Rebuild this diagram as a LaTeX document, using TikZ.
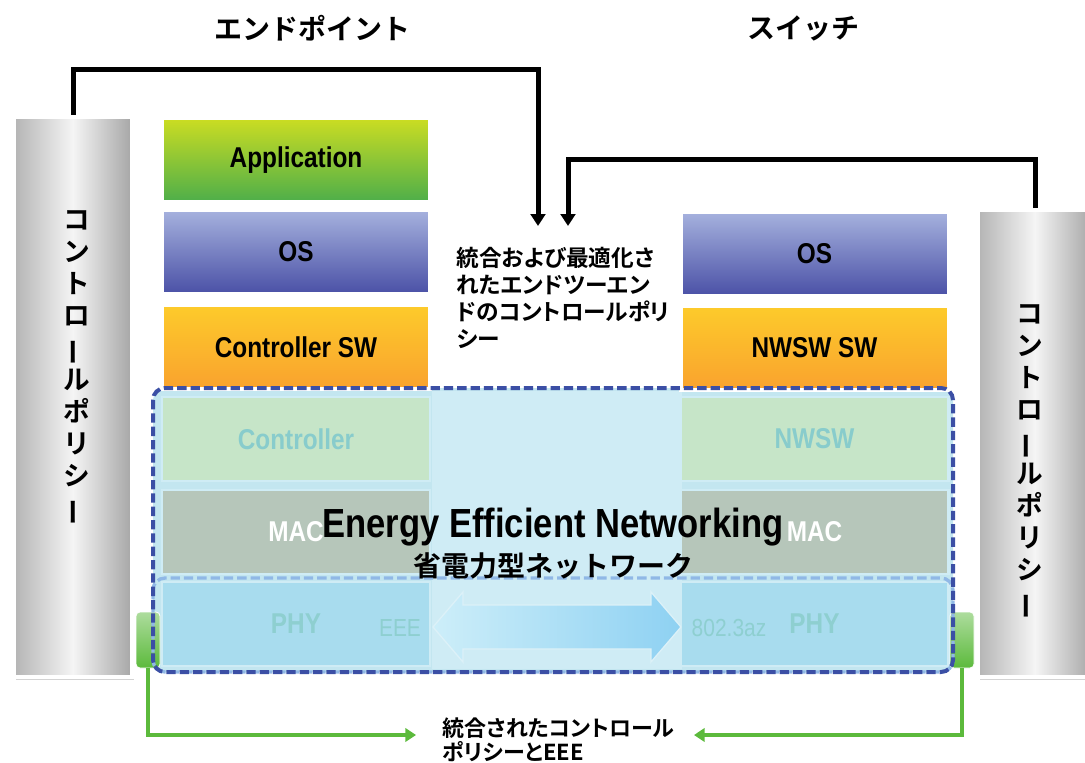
\documentclass[tikz,border=0pt]{standalone}
\usepackage{fontspec}
\usepackage{graphicx}
\usetikzlibrary{arrows.meta,shadows}
\setmainfont{Liberation Sans}
\newfontfamily\nar{Liberation Sans}[FakeStretch=0.85]
\newfontfamily\jp{Noto Sans CJK JP}[BoldFont={Noto Sans CJK JP Bold}]
\newfontfamily\jpp{Noto Sans CJK JP}[BoldFont={Noto Sans CJK JP Bold},RawFeature=+palt]
\newcommand\chouon{\rotatebox[origin=c]{90}{ー}}

\definecolor{appTop}{HTML}{CCDD22}
\definecolor{appBot}{HTML}{4DAE4A}
\definecolor{osTop}{HTML}{A6B2DE}
\definecolor{osBot}{HTML}{4A50A6}
\definecolor{swTop}{HTML}{FDCB2B}
\definecolor{swBot}{HTML}{F9A22E}
\definecolor{ctlFill}{HTML}{C6E5C8}
\definecolor{ctlText}{HTML}{88CCCC}
\definecolor{macFill}{HTML}{B6C6BA}
\definecolor{phyFill}{HTML}{A8DCEE}
\definecolor{phyText}{HTML}{8ECFD0}
\definecolor{eenFill}{HTML}{C3E6F0}
\definecolor{eenMid}{HTML}{CFECF5}
\definecolor{eenLine}{HTML}{3B4FA5}
\definecolor{phyLine}{HTML}{90B8E6}
\definecolor{ctrlGreen}{HTML}{5CBA3C}
\definecolor{pillarEdge}{HTML}{B4B4B4}
\definecolor{pillarDark}{HTML}{A6A6A6}
\definecolor{arrowLight}{HTML}{CDEEF9}
\definecolor{arrowDark}{HTML}{8ED1F2}

\tikzset{
  layerbase/.style={rectangle, line width=3pt, minimum width=201pt, minimum height=63pt,
    font=\nar\bfseries\fontsize{21.5}{24}\selectfont},
  layer/.style={layerbase, draw=white,
    drop shadow={opacity=0.35, shadow xshift=0.8pt, shadow yshift=-0.8pt, shadow scale=1.01}},
  faded/.style={layerbase, draw=eenMid, line width=2pt},
  pillar/.style={rectangle, draw=white, line width=3pt,
    left color=pillarEdge, right color=pillarDark, middle color=white!92!gray,
    drop shadow={opacity=0.35, shadow xshift=1.5pt, shadow yshift=-2pt}},
  pillartext/.style={font=\jp\bfseries\fontsize{20}{24}\selectfont, align=center},
  knob/.style={rectangle, rounded corners=3pt, minimum width=18pt, minimum height=42pt,
    top color=ctrlGreen!50!white, bottom color=ctrlGreen, draw=white, line width=0.6pt},
  title/.style={font=\jp\bfseries\fontsize{21}{24}\selectfont},
  policy/.style={line width=3.75pt, -{Triangle[length=9pt,width=11pt]}},
  link/.style={draw=ctrlGreen, line width=3pt, -{Triangle[length=8pt,width=10pt]}},
}

\begin{document}
\begin{tikzpicture}[x=0.75pt, y=-0.75pt]
\useasboundingbox (0,0) rectangle (1085,763);

% titles
\node[title] (endpoint) at (312,28) {エンドポイント};
\node[title] (switch) at (803,28) {スイッチ};

% control policy pillars
\node[pillar, minimum width=88.5pt, minimum height=420pt] (pillarL) at (73,397) {};
\node[pillar, minimum width=85.5pt, minimum height=350pt] (pillarR) at (1035,443.5) {};
\node[pillartext] (policyL) at (77,368) {コ\\ン\\ト\\ロ\\\chouon\\ル\\ポ\\リ\\シ\\\chouon};
\node[pillartext] (policyR) at (1030,462) {コ\\ン\\ト\\ロ\\\chouon\\ル\\ポ\\リ\\シ\\\chouon};

% energy efficient networking area
\fill[eenFill, rounded corners=9pt] (153,388) rectangle (953,672);
\fill[eenMid] (432,391) rectangle (682,669);

% endpoint stack
\node[layer, top color=appTop, bottom color=appBot] (app) at (296,160) {Application};
\node[layer, top color=osTop, bottom color=osBot] (osL) at (296,252) {OS};
\node[layer, top color=swTop, bottom color=swBot] (ctlsw) at (296,347) {Controller SW};
\node[faded, fill=ctlFill, text=ctlText] (ctl) at (296,439) {Controller};
\node[faded, fill=macFill, text=white] (macL) at (296,532) {MAC};
\node[faded, fill=phyFill, text=phyText] (phyL) at (296,624) {PHY};

% switch stack
\node[layer, top color=osTop, bottom color=osBot] (osR) at (814.5,254) {OS};
\node[layer, top color=swTop, bottom color=swBot] (nwswsw) at (814.5,348) {NWSW SW};
\node[faded, fill=ctlFill, text=ctlText] (nwsw) at (814.5,439) {NWSW};
\node[faded, fill=macFill, text=white] (macR) at (814.5,532) {MAC};
\node[faded, fill=phyFill, text=phyText] (phyR) at (814.5,624) {PHY};

% EEE link arrow
\path[draw=white!60!phyFill, line width=1pt, left color=arrowLight, right color=arrowDark]
  (433,627) -- (463,592) -- (463,605) -- (651,605) -- (651,592) -- (681,627)
  -- (651,662) -- (651,649) -- (463,649) -- (463,662) -- cycle;
\node[font=\nar\fontsize{18.5}{20}\selectfont, text=phyText] (eee) at (400,628) {EEE};
\node[font=\nar\fontsize{18.5}{20}\selectfont, text=phyText] (az) at (729,628) {802.3az};

% green knobs
\node[knob] (knobL) at (148,640) {};
\node[knob] (knobR) at (962,640) {};

% dashed borders
\draw[phyLine, line width=2.5pt, dash pattern=on 7pt off 3pt, rounded corners=9pt] (153,578) rectangle (953,672);
\draw[eenLine, line width=3pt, dash pattern=on 7pt off 3pt, rounded corners=9pt] (153,388) rectangle (953,672);

\node[font=\nar\bfseries\fontsize{30.5}{34}\selectfont] (een) at (553,527) {Energy Efficient Networking};
\node[font=\jp\bfseries\fontsize{21}{24}\selectfont] (eenjp) at (553,566) {省電力型ネットワーク};

% end-to-end control policy
\node[font=\jpp\bfseries\fontsize{17}{20.2}\selectfont, align=left, anchor=north west] (e2e) at (452,243)
  {統合および最適化さ\\れたエンドツーエン\\ドのコントロールポリ\\シー};
\coordinate (tipL) at (538,226);
\coordinate (tipR) at (568,226);
\draw[policy] (pillarL.north) -- (pillarL.north |- 0,70) -| (tipL);
\draw[policy] (pillarR.north) -- (pillarR.north |- 0,160) -| (tipR);

% integrated policy and EEE
\node[font=\jpp\bfseries\fontsize{16.5}{18}\selectfont, align=left, anchor=north west] (integ) at (438,713)
  {統合されたコントロール\\ポリシーとEEE};
\coordinate (gtipL) at (416,735);
\coordinate (gtipR) at (694,735);
\draw[link] (knobL.south) |- (gtipL);
\draw[link] (knobR.south) |- (gtipR);
\end{tikzpicture}
\end{document}
